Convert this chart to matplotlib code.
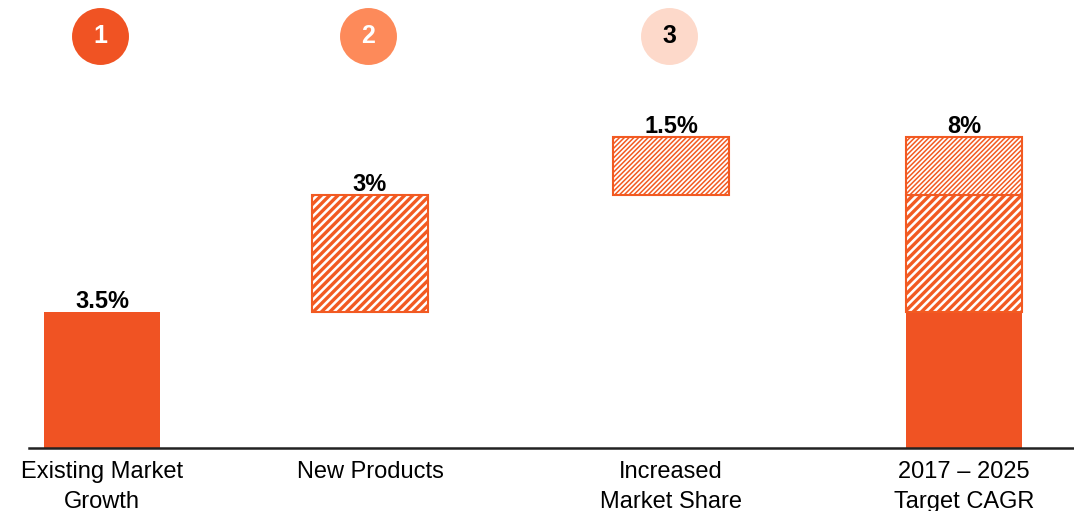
import numpy as np
import matplotlib
matplotlib.use('Agg')
import matplotlib.pyplot as plt

plt.rcParams['font.family'] = ['Liberation Sans', 'DejaVu Sans']

# Data
categories = ['Existing Market\nGrowth', 'New Products', 'Increased\nMarket Share', '2017 \u2013 2025\nTarget CAGR']
drivers = [3.5, 3.0, 1.5]          # contribution of each growth driver (%)
step_labels = ['1', '2', '3']
step_colors = ['#F05323', '#FD8A5A', '#FDD9CA']
step_text_colors = ['white', 'white', 'black']

# Styling
orange = '#F05323'
edge = '#F25A22'
hatches = [None, '////', '///////']
hatch_lw = [0, 2.4, 1.1]

drivers = np.array(drivers)
bottoms = np.concatenate([[0], np.cumsum(drivers)[:-1]])
total = drivers.sum()

# x positions of the four columns (layout only)
xpos = [1.02, 3.70, 6.71, 9.64]
width = 1.16

fig = plt.figure(figsize=(10.74, 5.11), dpi=100)
ax = fig.add_axes([0, 63 / 511, 1, 448 / 511])
ax.set_xlim(0, 10.74)
ax.set_ylim(0, 448 / 38.875)


def draw_piece(x, bottom, height, i):
    if hatches[i] is None:
        bars = ax.bar(x, height, width, bottom=bottom, color=orange, edgecolor=orange, linewidth=0)
    else:
        with plt.rc_context({'hatch.linewidth': hatch_lw[i]}):
            bars = ax.bar(x, height, width, bottom=bottom, facecolor='white',
                          edgecolor=edge, linewidth=1.5, hatch=hatches[i])
        for p in bars:
            if hasattr(p, 'set_hatch_linewidth'):
                p.set_hatch_linewidth(hatch_lw[i])
    return bars


# Waterfall steps
for i, (b, h) in enumerate(zip(bottoms, drivers)):
    draw_piece(xpos[i], b, h, i)
    ax.annotate(f'{h:g}%', (xpos[i], b + h), xytext=(0, 3), textcoords='offset points',
                ha='center', va='baseline', fontsize=17, fontweight='bold')

# Total column stacked from the same pieces
for i, (b, h) in enumerate(zip(bottoms, drivers)):
    draw_piece(xpos[3], b, h, i)
ax.annotate(f'{total:g}%', (xpos[3], total), xytext=(0, 3), textcoords='offset points',
            ha='center', va='baseline', fontsize=17, fontweight='bold')

# Numbered circles above the steps
circle_y = (448 - 36) / 38.875
for i in range(3):
    ax.scatter(xpos[i] - 0.02, circle_y, s=1681, color=step_colors[i], linewidths=0, clip_on=False, zorder=3)
    ax.text(xpos[i] - 0.02, circle_y, step_labels[i], ha='center', va='center',
            fontsize=18, fontweight='bold', color=step_text_colors[i], zorder=4)

# Baseline
ax.axhline(0, xmin=29 / 1074, xmax=1, color='#222222', linewidth=1.8, clip_on=False)

ax.set_xticks(xpos)
ax.set_xticklabels(categories, fontsize=17, linespacing=1.5)
ax.tick_params(axis='x', length=0, pad=9)
ax.set_yticks([])
for s in ax.spines.values():
    s.set_visible(False)

fig.savefig('out.png', dpi=100)
